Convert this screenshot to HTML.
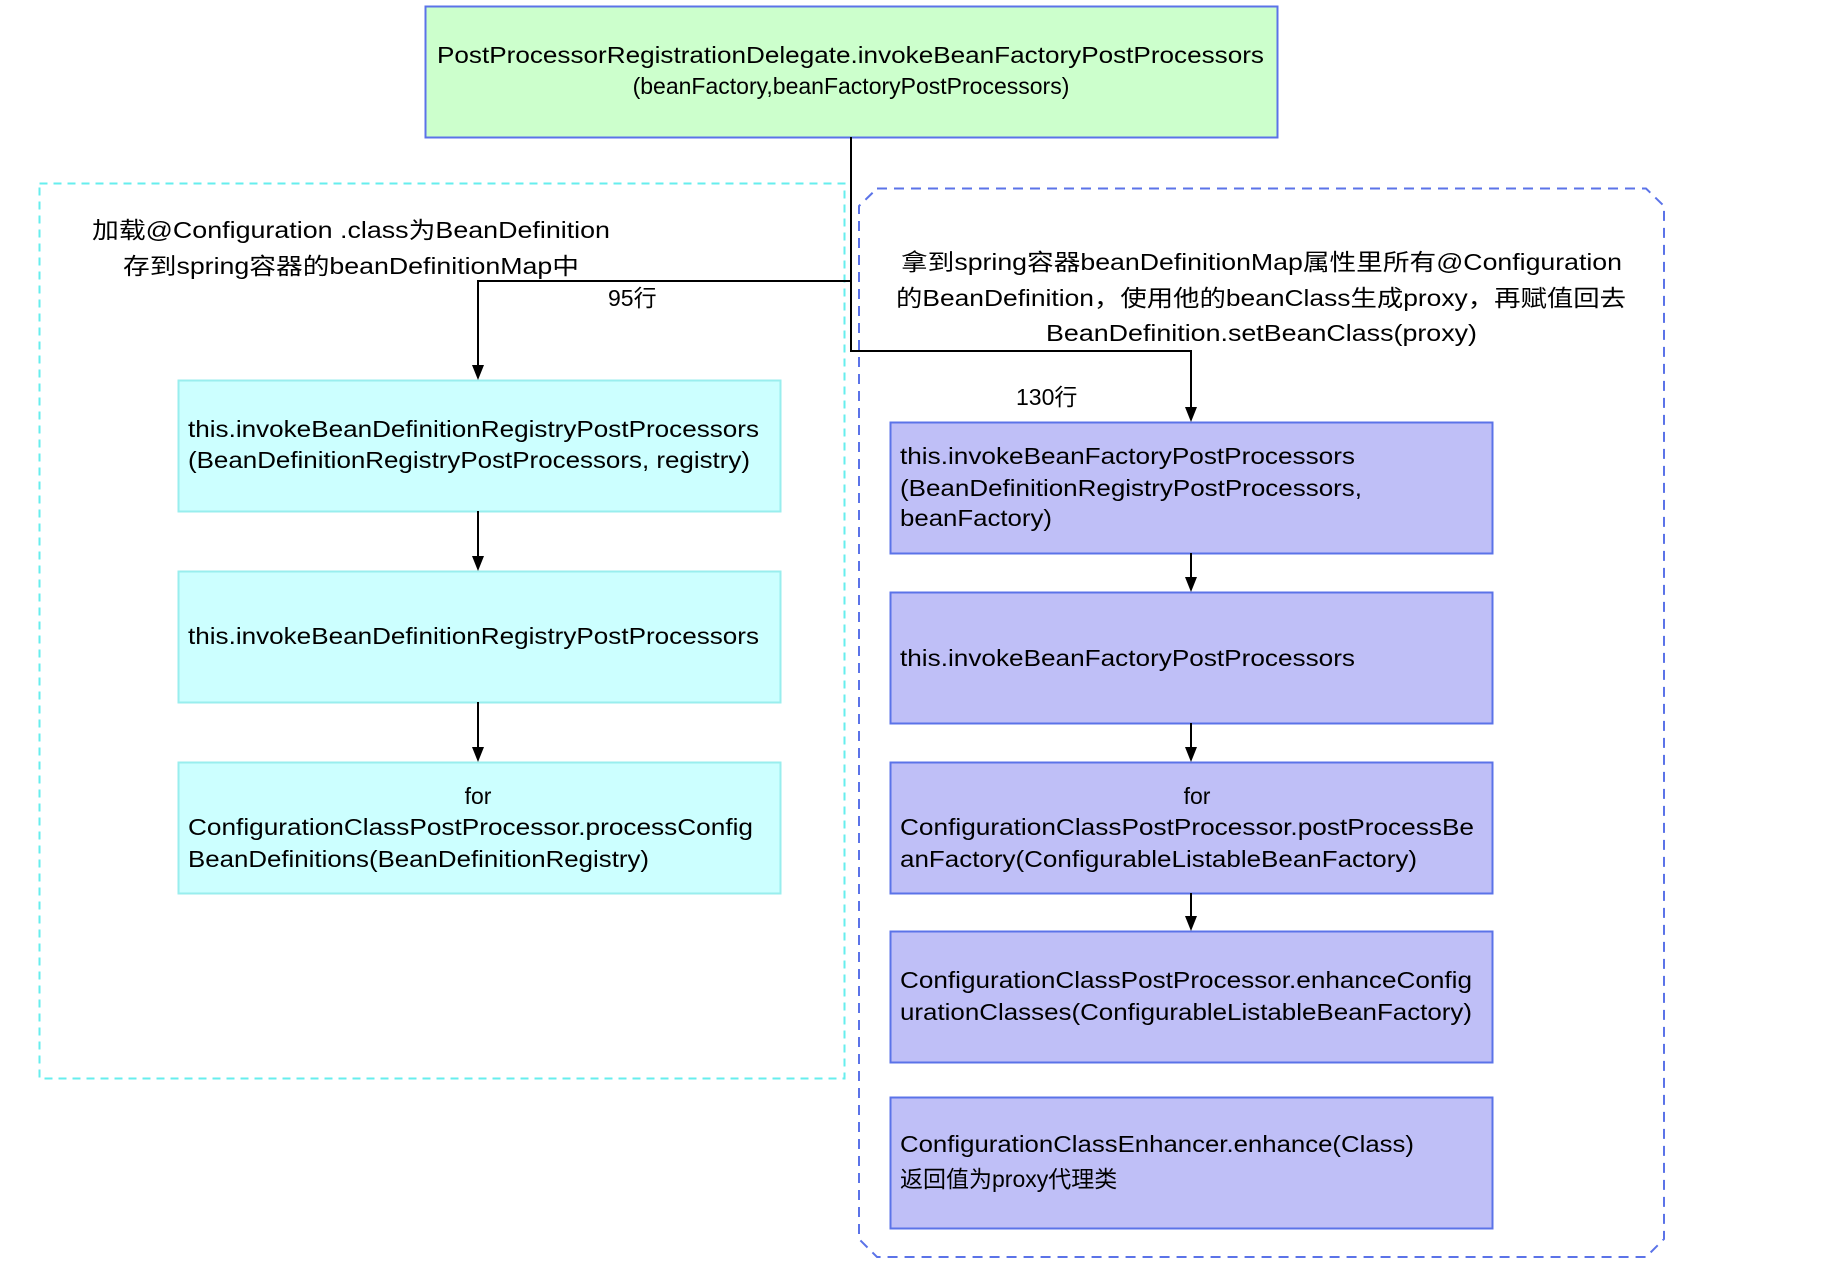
<!DOCTYPE html>
<html><head><meta charset="utf-8"><style>html,body{margin:0;padding:0;background:#fff}svg{display:block}text{font-family:"Liberation Sans","Noto Sans CJK SC",sans-serif;font-size:23px;fill:#000;dominant-baseline:central}</style></head><body>
<svg width="1834" height="1262" viewBox="0 0 1834 1262" xmlns="http://www.w3.org/2000/svg">
<defs><marker id="a" markerWidth="10" markerHeight="12" refX="5" refY="12" orient="auto" markerUnits="userSpaceOnUse"><path d="M0,0 L10,0 L5,12 z" fill="#000" transform="rotate(-90 5 6)"/></marker></defs>
<rect x="39.5" y="183.5" width="805" height="895" fill="none" stroke="#66eeee" stroke-width="2" stroke-dasharray="8,6"/>
<path d="M877,188.5 H1646 L1664,206 V1239 L1646,1257 H877 L859,1239 V206 Z" fill="none" stroke="#5b73e8" stroke-width="2" stroke-dasharray="10,7"/>
<rect x="425.5" y="6.5" width="852" height="131" fill="#ccffcc" stroke="#5b73e8" stroke-width="2"/>
<g fill="#ccffff" stroke="#99eeee" stroke-width="2">
<rect x="178.5" y="380.5" width="602" height="131"/><rect x="178.5" y="571.5" width="602" height="131"/><rect x="178.5" y="762.5" width="602" height="131"/></g>
<g fill="#bfbff7" stroke="#5b73e8" stroke-width="2">
<rect x="890.5" y="422.5" width="602" height="131"/><rect x="890.5" y="592.5" width="602" height="131"/><rect x="890.5" y="762.5" width="602" height="131"/><rect x="890.5" y="931.5" width="602" height="131"/><rect x="890.5" y="1097.5" width="602" height="131"/></g>
<g stroke="#000" stroke-width="2" fill="none">
<path d="M851,137 V281 H478 V366"/><path d="M851,281 V351 H1191 V408"/>
<path d="M478,511 V557"/><path d="M478,702 V748"/>
<path d="M1191,553 V578"/><path d="M1191,723 V748"/><path d="M1191,893 V917"/></g>
<g fill="#000">
<path d="M472,365 L484,365 L478,380 z"/><path d="M472,556 L484,556 L478,571 z"/><path d="M472,747 L484,747 L478,762 z"/>
<path d="M1185,407 L1197,407 L1191,422 z"/><path d="M1185,577 L1197,577 L1191,592 z"/><path d="M1185,747 L1197,747 L1191,762 z"/><path d="M1185,916 L1197,916 L1191,931 z"/></g>
<text x="437" y="55" textLength="827" lengthAdjust="spacingAndGlyphs">PostProcessorRegistrationDelegate.invokeBeanFactoryPostProcessors</text>
<text x="851" y="86" text-anchor="middle">(beanFactory,beanFactoryPostProcessors)</text>
<text x="92" y="230" textLength="518" lengthAdjust="spacingAndGlyphs">加载@Configuration .class为BeanDefinition</text>
<text x="123" y="266" textLength="456" lengthAdjust="spacingAndGlyphs">存到spring容器的beanDefinitionMap中</text>
<text x="608" y="298">95行</text>
<text x="1016" y="397">130行</text>
<text x="901" y="262" textLength="721" lengthAdjust="spacingAndGlyphs">拿到spring容器beanDefinitionMap属性里所有@Configuration</text>
<text x="896" y="298" textLength="730" lengthAdjust="spacingAndGlyphs">的BeanDefinition，使用他的beanClass生成proxy，再赋值回去</text>
<text x="1046" y="333" textLength="431" lengthAdjust="spacingAndGlyphs">BeanDefinition.setBeanClass(proxy)</text>
<text x="188" y="429" textLength="571" lengthAdjust="spacingAndGlyphs">this.invokeBeanDefinitionRegistryPostProcessors</text>
<text x="188" y="460" textLength="562" lengthAdjust="spacingAndGlyphs">(BeanDefinitionRegistryPostProcessors, registry)</text>
<text x="188" y="636" textLength="571" lengthAdjust="spacingAndGlyphs">this.invokeBeanDefinitionRegistryPostProcessors</text>
<text x="478" y="796" text-anchor="middle">for</text>
<text x="188" y="827" textLength="565" lengthAdjust="spacingAndGlyphs">ConfigurationClassPostProcessor.processConfig</text>
<text x="188" y="859" textLength="461" lengthAdjust="spacingAndGlyphs">BeanDefinitions(BeanDefinitionRegistry)</text>
<text x="900" y="456" textLength="455" lengthAdjust="spacingAndGlyphs">this.invokeBeanFactoryPostProcessors</text>
<text x="900" y="488" textLength="462" lengthAdjust="spacingAndGlyphs">(BeanDefinitionRegistryPostProcessors,</text>
<text x="900" y="518" textLength="152" lengthAdjust="spacingAndGlyphs">beanFactory)</text>
<text x="900" y="658" textLength="455" lengthAdjust="spacingAndGlyphs">this.invokeBeanFactoryPostProcessors</text>
<text x="1197" y="796" text-anchor="middle">for</text>
<text x="900" y="827" textLength="574" lengthAdjust="spacingAndGlyphs">ConfigurationClassPostProcessor.postProcessBe</text>
<text x="900" y="859" textLength="517" lengthAdjust="spacingAndGlyphs">anFactory(ConfigurableListableBeanFactory)</text>
<text x="900" y="980" textLength="572" lengthAdjust="spacingAndGlyphs">ConfigurationClassPostProcessor.enhanceConfig</text>
<text x="900" y="1012" textLength="572" lengthAdjust="spacingAndGlyphs">urationClasses(ConfigurableListableBeanFactory)</text>
<text x="900" y="1144" textLength="514" lengthAdjust="spacingAndGlyphs">ConfigurationClassEnhancer.enhance(Class)</text>
<text x="900" y="1179">返回值为proxy代理类</text>
</svg>
</body></html>
